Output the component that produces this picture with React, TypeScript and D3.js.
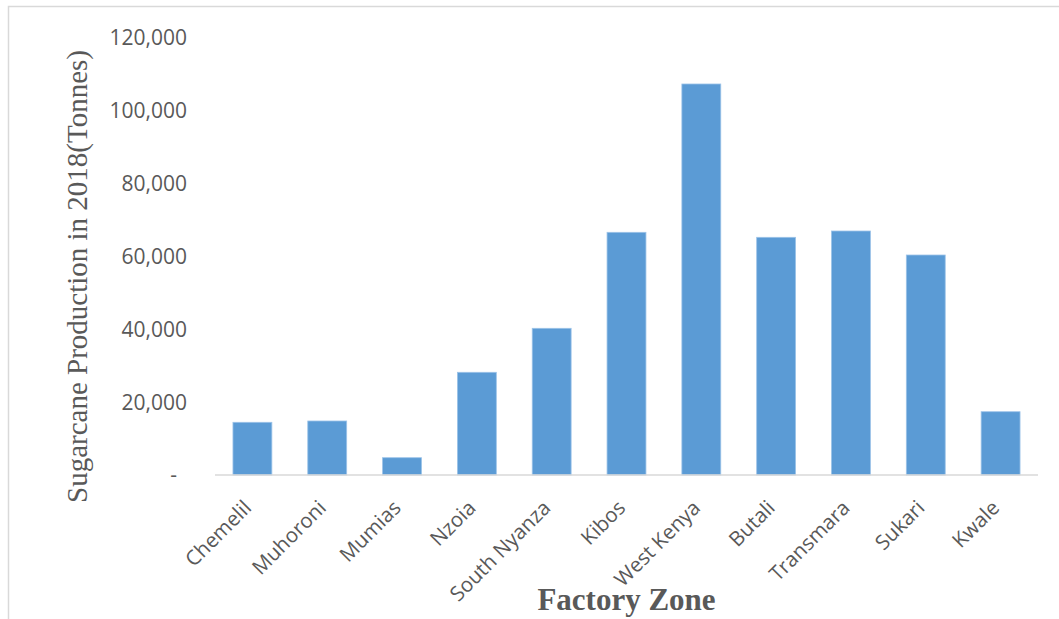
import * as d3 from 'd3';
import React from 'react';

const width = 1059;
const height = 619;
const margin = { top: 38, right: 21, bottom: 144, left: 215 };
const blue = '#5b9bd5';
const grey = '#595959';

// factory zones and 2018 production (tonnes)
const zones = [
  'Chemelil',
  'Muhoroni',
  'Mumias',
  'Nzoia',
  'South Nyanza',
  'Kibos',
  'West Kenya',
  'Butali',
  'Transmara',
  'Sukari',
  'Kwale'
];
const production = [14470, 14830, 4750, 28200, 40280, 66640, 107370, 65270, 67000, 60410, 17380];
const yTicks = [0, 20000, 40000, 60000, 80000, 100000, 120000];
const yTickLabels = ['-', '20,000', '40,000', '60,000', '80,000', '100,000', '120,000'];

const xScale = d3
  .scaleBand<string>()
  .domain(zones)
  .range([margin.left, width - margin.right])
  .paddingInner(0.48)
  .paddingOuter(0.24);
const yScale = d3
  .scaleLinear()
  .domain([0, 120000])
  .range([height - margin.bottom, margin.top]);

const tickFont = '"Open Sans", sans-serif';
const titleFont = '"Liberation Serif", "Times New Roman", serif';

export default function App() {
  const y0 = yScale(0);
  return (
    <svg
      width={width}
      height={height}
      style={{ position: 'absolute', left: 0, top: 0, background: '#fff' }}
    >
      {/* chart area frame, runs past the right and bottom edge */}
      <rect x={8.5} y={6.5} width={1080} height={650} fill="none" stroke="#d9d9d9" strokeWidth={1.5} />

      {/* y tick labels */}
      {yTicks.map((t, i) => (
        <text
          key={t}
          x={t === 0 ? 177 : 187}
          y={yScale(t)}
          dy="0.35em"
          textAnchor="end"
          fontFamily={tickFont}
          fontSize={21}
          fill={grey}
        >
          {yTickLabels[i]}
        </text>
      ))}

      {/* bars */}
      {zones.map((z, i) => (
        <rect
          key={z}
          x={xScale(z)}
          y={yScale(production[i])}
          width={xScale.bandwidth()}
          height={y0 - yScale(production[i])}
          fill={blue}
          stroke="#9cc3e8"
          strokeWidth={0.8}
        />
      ))}

      {/* x axis line */}
      <line x1={margin.left} x2={width - margin.right} y1={y0} y2={y0} stroke="#d9d9d9" strokeWidth={1.5} />

      {/* rotated category labels */}
      {zones.map(z => {
        const cx = (xScale(z) as number) + xScale.bandwidth() / 2;
        return (
          <text
            key={z}
            transform={`translate(${cx - 10}, ${y0 + 24}) rotate(-45)`}
            textAnchor="end"
            dy="0.7em"
            fontFamily={tickFont}
            fontSize={20.5}
            fill={grey}
          >
            {z}
          </text>
        );
      })}

      {/* axis titles */}
      <text
        transform={`translate(87, ${(margin.top + y0) / 2 + 20}) rotate(-90)`}
        textAnchor="middle"
        fontFamily={titleFont}
        fontSize={29}
        fill={grey}
      >
        Sugarcane Production in 2018(Tonnes)
      </text>
      <text
        x={(margin.left + width - margin.right) / 2}
        y={610}
        textAnchor="middle"
        fontFamily={titleFont}
        fontSize={31}
        fontWeight="bold"
        fill={grey}
      >
        Factory Zone
      </text>
    </svg>
  );
}
